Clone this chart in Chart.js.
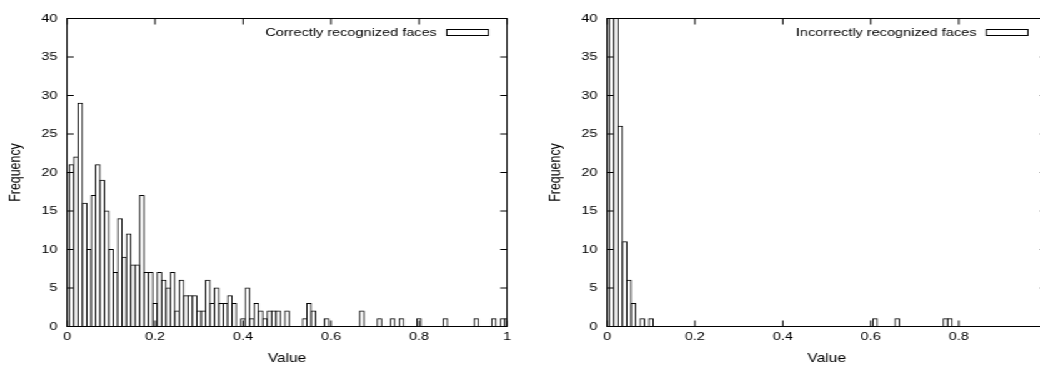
<!DOCTYPE html>
<html><head><meta charset="utf-8">
<script src="https://cdn.jsdelivr.net/npm/chart.js@4.4.1/dist/chart.umd.min.js"></script>
<style>
html,body{margin:0;padding:0;background:#fff;overflow:hidden;width:1040px;height:369px}
#wrap{position:absolute;left:0;top:0;width:860px;height:369px;transform:scaleX(1.25);transform-origin:0 0}
.p{position:absolute;top:0;height:369px}
</style></head><body>
<div id="wrap">
<div class="p" style="left:0;width:416px"><canvas id="c1" width="416" height="369"></canvas></div>
<div class="p" style="left:416px;width:440px"><canvas id="c2" width="440" height="369"></canvas></div>
</div>
<script>
// bin centres (bin width 0.01)
const bins = [0,0.01,0.02,0.03,0.04,0.05,0.06,0.07,0.08,0.09,
  0.10,0.11,0.12,0.13,0.14,0.15,0.16,0.17,0.18,0.19,
  0.20,0.21,0.22,0.23,0.24,0.25,0.26,0.27,0.28,0.29,
  0.30,0.31,0.32,0.33,0.34,0.35,0.36,0.37,0.38,0.39,
  0.40,0.41,0.42,0.43,0.44,0.45,0.46,0.47,0.48,0.49,
  0.50,0.51,0.52,0.53,0.54,0.55,0.56,0.57,0.58,0.59,
  0.60,0.61,0.62,0.63,0.64,0.65,0.66,0.67,0.68,0.69,
  0.70,0.71,0.72,0.73,0.74,0.75,0.76,0.77,0.78,0.79,
  0.80,0.81,0.82,0.83,0.84,0.85,0.86,0.87,0.88,0.89,
  0.90,0.91,0.92,0.93,0.94,0.95,0.96,0.97,0.98,0.99,
  1.00];
const correctCounts = [20,21,22,29,16,10,17,21,19,15,
  10,7,14,9,12,8,8,17,7,7,
  3,7,6,5,7,2,6,4,4,4,
  2,2,6,3,5,3,3,4,3,0,
  1,5,1,3,2,1,2,2,2,0,
  2,0,0,0,1,3,2,0,0,1,
  0,0,0,0,0,0,0,2,0,0,
  0,1,0,0,1,0,1,0,0,0,
  1,0,0,0,0,0,1,0,0,0,
  0,0,0,1,0,0,0,1,0,1,
  1];
const incorrectCounts = [58,72,45,26,11,6,3,0,1,0,
  1,0,0,0,0,0,0,0,0,0,
  0,0,0,0,0,0,0,0,0,0,
  0,0,0,0,0,0,0,0,0,0,
  0,0,0,0,0,0,0,0,0,0,
  0,0,0,0,0,0,0,0,0,0,
  0,1,0,0,0,0,1,0,0,0,
  0,0,0,0,0,0,0,1,1,0,
  0,0,0,0,0,0,0,0,0,0,
  0,0,0,0,0,0,0,0,0,0,
  0];
const seriesLabels = ['Correctly recognized faces','Incorrectly recognized faces'];
const xTickLabels = ['0','0.2','0.4','0.6','0.8','1'];
const yTickLabels = ['0','5','10','15','20','25','30','35','40'];
const xTitle = 'Value';
const yTitle = 'Frequency';

Chart.defaults.font.family = "'Liberation Sans', Arial, Helvetica, sans-serif";
Chart.defaults.font.size = 11.6;
Chart.defaults.color = '#000';

const framePlugin = {
  id: 'gnuframe',
  afterDatasetsDraw(chart) {
    const {ctx, chartArea: a, scales: {x, y}} = chart;
    ctx.save();
    ctx.strokeStyle = '#000';
    ctx.lineWidth = 1;
    ctx.strokeRect(a.left, a.top, a.right - a.left, a.bottom - a.top);
    ctx.beginPath();
    x.ticks.forEach(t => {
      const px = x.getPixelForValue(t.value);
      ctx.moveTo(px, a.bottom); ctx.lineTo(px, a.bottom - 6);
      ctx.moveTo(px, a.top); ctx.lineTo(px, a.top + 6);
    });
    y.ticks.forEach(t => {
      const py = y.getPixelForValue(t.value);
      ctx.moveTo(a.left, py); ctx.lineTo(a.left + 5.4, py);
      ctx.moveTo(a.right, py); ctx.lineTo(a.right - 5.4, py);
    });
    ctx.stroke();
    // key (gnuplot style: text then sample box)
    const label = chart.data.datasets[0].label;
    ctx.font = "11.6px 'Liberation Sans', Arial, sans-serif";
    ctx.fillStyle = '#000';
    ctx.textAlign = 'right';
    ctx.textBaseline = 'alphabetic';
    ctx.fillText(label, a.right - 56.2, 35.7);
    ctx.strokeRect(a.right - 48.2, 29.5, 33.2, 6);
    ctx.restore();
  }
};

function makeChart(id, counts, label, padLeft, padRight) {
  return new Chart(document.getElementById(id), {
    type: 'bar',
    data: {
      datasets: [{
        label: label,
        data: bins.map((b, i) => ({x: b, y: counts[i]})),
        backgroundColor: '#fff',
        borderColor: '#000',
        borderWidth: 1,
        borderSkipped: false,
        inflateAmount: 0.5,
        barPercentage: 1,
        categoryPercentage: 1,
        clip: 0
      }]
    },
    options: {
      responsive: false,
      animation: false,
      devicePixelRatio: 1,
      layout: {padding: {left: padLeft, right: padRight, top: 18.5, bottom: 0}},
      plugins: {legend: {display: false}, tooltip: {enabled: false}},
      scales: {
        x: {
          type: 'linear', min: 0, max: 1, offset: false,
          grid: {display: false, drawTicks: false, offset: false},
          border: {display: false},
          ticks: {stepSize: 0.2, padding: 3, maxRotation: 0, autoSkip: false,
                  callback: (v, i) => xTickLabels[i]},
          title: {display: true, text: xTitle, font: {size: 12.4}, padding: {top: 0, bottom: 3}},
          afterFit: s => { s.height = 42.5; }
        },
        y: {
          min: 0, max: 40,
          grid: {display: false, drawTicks: false},
          border: {display: false},
          ticks: {stepSize: 5, padding: 7.6, callback: (v, i) => yTickLabels[i]},
          title: {display: true, text: yTitle, font: {size: 12.4}, padding: {top: 5, bottom: 0}},
          afterFit: s => { s.width = 53.6; }
        }
      }
    },
    plugins: [framePlugin]
  });
}

makeChart('c1', correctCounts, seriesLabels[0], 0, 10.4);
makeChart('c2', incorrectCounts, seriesLabels[1], 16, 18.6);
</script>
</body></html>
